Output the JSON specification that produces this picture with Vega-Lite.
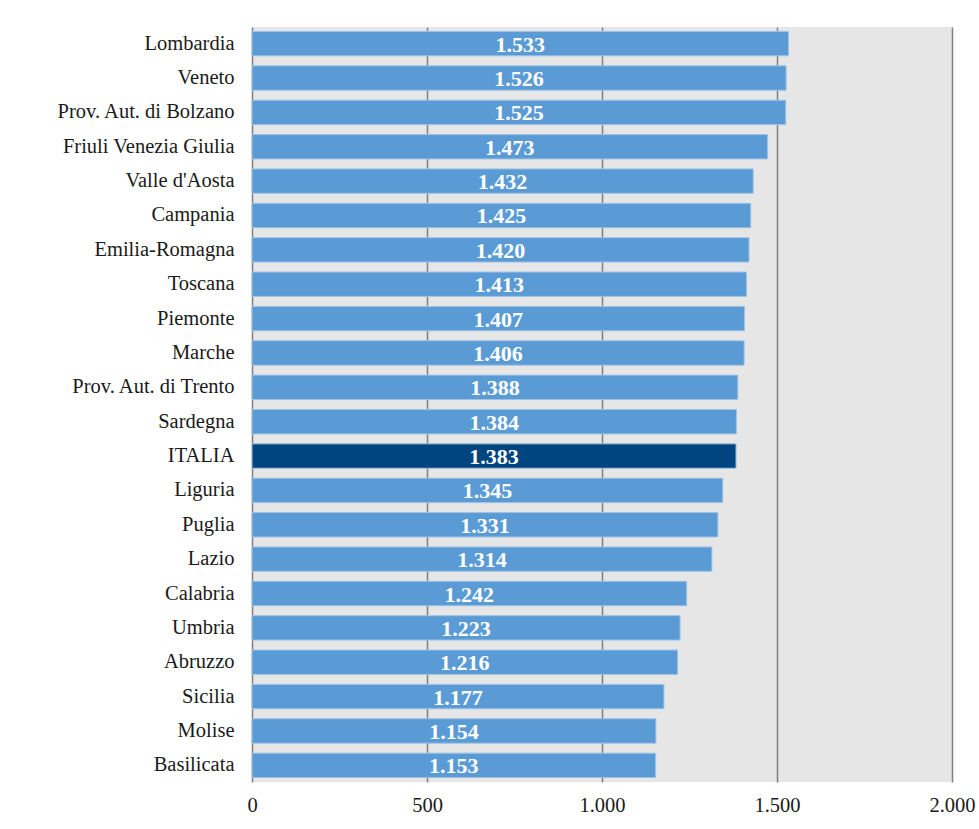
{
  "$schema": "https://vega.github.io/schema/vega-lite/v6.json",
  "width": 700,
  "height": 755,
  "autosize": {"type": "none"},
  "padding": {"left": 252, "top": 27, "right": 27, "bottom": 47},
  "background": "white",
  "config": {
    "locale": {"number": {"decimal": ",", "thousands": ".", "grouping": [3], "currency": ["€", ""]}},
    "view": {"fill": "#e6e6e6", "stroke": null},
    "font": "Liberation Serif"
  },
  "data": {
    "values": [
      {"regione": "Lombardia", "valore": 1533, "tipo": "regione"},
      {"regione": "Veneto", "valore": 1526, "tipo": "regione"},
      {"regione": "Prov. Aut. di Bolzano", "valore": 1525, "tipo": "regione"},
      {"regione": "Friuli Venezia Giulia", "valore": 1473, "tipo": "regione"},
      {"regione": "Valle d'Aosta", "valore": 1432, "tipo": "regione"},
      {"regione": "Campania", "valore": 1425, "tipo": "regione"},
      {"regione": "Emilia-Romagna", "valore": 1420, "tipo": "regione"},
      {"regione": "Toscana", "valore": 1413, "tipo": "regione"},
      {"regione": "Piemonte", "valore": 1407, "tipo": "regione"},
      {"regione": "Marche", "valore": 1406, "tipo": "regione"},
      {"regione": "Prov. Aut. di Trento", "valore": 1388, "tipo": "regione"},
      {"regione": "Sardegna", "valore": 1384, "tipo": "regione"},
      {"regione": "ITALIA", "valore": 1383, "tipo": "italia"},
      {"regione": "Liguria", "valore": 1345, "tipo": "regione"},
      {"regione": "Puglia", "valore": 1331, "tipo": "regione"},
      {"regione": "Lazio", "valore": 1314, "tipo": "regione"},
      {"regione": "Calabria", "valore": 1242, "tipo": "regione"},
      {"regione": "Umbria", "valore": 1223, "tipo": "regione"},
      {"regione": "Abruzzo", "valore": 1216, "tipo": "regione"},
      {"regione": "Sicilia", "valore": 1177, "tipo": "regione"},
      {"regione": "Molise", "valore": 1154, "tipo": "regione"},
      {"regione": "Basilicata", "valore": 1153, "tipo": "regione"}
    ]
  },
  "encoding": {
    "y": {
      "field": "regione",
      "type": "nominal",
      "sort": null,
      "scale": {"paddingInner": 0.29, "paddingOuter": 0.13},
      "axis": {
        "title": null,
        "ticks": false,
        "domain": false,
        "labelFont": "Liberation Serif",
        "labelFontSize": 20.5,
        "labelColor": "#1a1a1a",
        "labelPadding": 18
      }
    }
  },
  "resolve": {"scale": {"x": "independent"}, "axis": {"x": "independent"}},
  "layer": [
    {
      "mark": {"type": "bar", "stroke": "#9dc3e6", "strokeWidth": 1},
      "encoding": {
        "x": {
          "field": "valore",
          "type": "quantitative",
          "scale": {"domain": [0, 2000]},
          "axis": {
            "title": null,
            "values": [0, 500, 1000, 1500, 2000],
            "format": ",d",
            "ticks": false,
            "domain": false,
            "grid": true,
            "gridColor": "#7f7f7f",
            "gridWidth": 1.5,
            "labelFlush": false,
            "labelFont": "Liberation Serif",
            "labelFontSize": 20.5,
            "labelColor": "#1a1a1a",
            "labelPadding": 13
          }
        },
        "color": {
          "field": "tipo",
          "type": "nominal",
          "scale": {"domain": ["regione", "italia"], "range": ["#5b9bd5", "#00457f"]},
          "legend": null
        }
      }
    },
    {
      "mark": {"type": "text", "color": "white", "fontWeight": "bold", "fontSize": 22, "font": "Liberation Serif", "baseline": "middle", "align": "center", "dy": 1},
      "encoding": {
        "x": {"field": "valore", "type": "quantitative", "scale": {"domain": [0, 4000]}, "axis": null},
        "text": {"field": "valore", "type": "quantitative", "format": ",d"}
      }
    }
  ]
}
